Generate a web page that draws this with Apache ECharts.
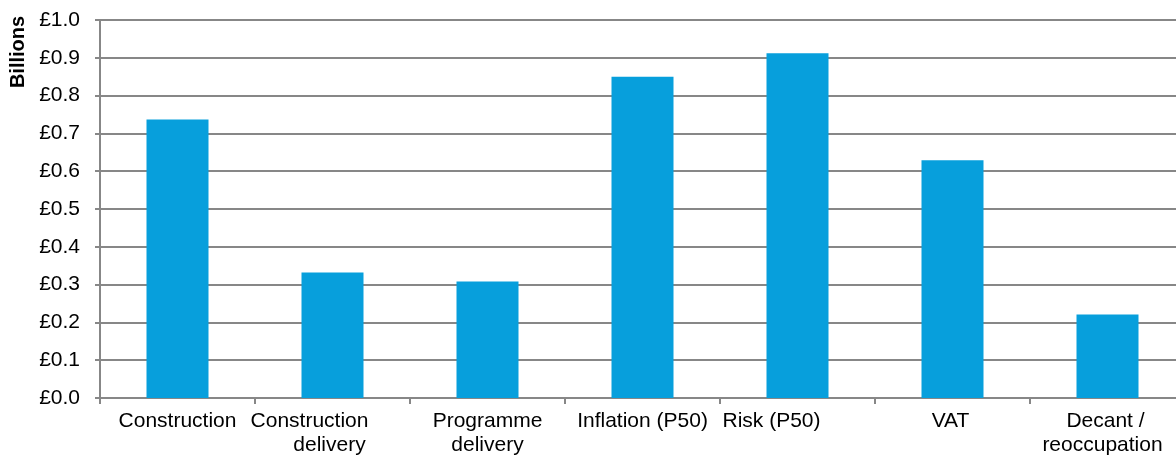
<!DOCTYPE html>
<html>
<head>
<meta charset="utf-8">
<script src="https://cdn.jsdelivr.net/npm/echarts@6/dist/echarts.min.js"></script>
<style>
  html, body { margin: 0; padding: 0; background: #fff; overflow: hidden; }
  /* the plot runs slightly past the right edge of the window */
  #chart { width: 1185px; height: 457px; }
</style>
</head>
<body>
<div id="chart"></div>
<script>
// Cost components (£ billions)
const categories = [
  'Construction',
  'Construction\ndelivery',
  'Programme\ndelivery',
  'Inflation (P50)',
  'Risk (P50)',
  'VAT',
  'Decant /\nreoccupation'
];
const costs = [0.737, 0.332, 0.308, 0.850, 0.912, 0.629, 0.221];
const yTicks = [0, 0.1, 0.2, 0.3, 0.4, 0.5, 0.6, 0.7, 0.8, 0.9, 1.0];

const font = '"Liberation Sans", Arial, Helvetica, sans-serif';
const grey = '#878787';

// leftward nudge (px) of each category label line, so the labels sit
// the way the original layout placed them
const labelNudge = {
  'Construction\ndelivery': [23, 3],
  'Risk (P50)': [26],
  'VAT': [2],
  'Decant /\nreoccupation': [2, 5]
};

const nudgeValues = [...new Set(Object.values(labelNudge).flat())];
const rich = { n0: { align: 'center', fontSize: 21, fontFamily: font, color: '#000', lineHeight: 24 } };
nudgeValues.forEach(n => {
  rich['n' + n] = {
    align: 'center', fontSize: 21, fontFamily: font, color: '#000', lineHeight: 24,
    padding: [0, 2 * n, 0, 0]
  };
});

function formatCategory(name) {
  const shifts = labelNudge[name] || [];
  return name.split('\n')
    .map((line, i) => '{n' + (shifts[i] || 0) + '|' + line + '}')
    .join('\n');
}

const chart = echarts.init(document.getElementById('chart'), null, { renderer: 'canvas' });
chart.setOption({
  animation: false,
  grid: { left: 100, top: 20, right: 0, height: 380 },
  graphic: [{
    type: 'text',
    rotation: Math.PI / 2,
    x: 18,
    y: 52,
    style: {
      text: 'Billions',
      font: 'bold 20px ' + font,
      fill: '#000',
      textAlign: 'center',
      textVerticalAlign: 'middle'
    }
  }],
  xAxis: {
    type: 'category',
    data: categories,
    axisLine: { lineStyle: { color: grey, width: 2 } },
    axisTick: { show: true, length: 6, lineStyle: { color: grey, width: 2 } },
    axisLabel: {
      color: '#000',
      fontFamily: font,
      fontSize: 21,
      lineHeight: 24,
      margin: 11,
      interval: 0,
      formatter: formatCategory,
      rich: rich
    }
  },
  yAxis: {
    type: 'value',
    min: 0,
    max: 1,
    interval: 0.1,
    axisLine: { show: true, lineStyle: { color: grey, width: 2 } },
    axisTick: { show: true, length: 5, lineStyle: { color: grey, width: 2 } },
    splitLine: { lineStyle: { color: grey, width: 2 } },
    axisLabel: {
      color: '#000',
      fontFamily: font,
      fontSize: 21,
      margin: 20,
      formatter: v => {
        const t = yTicks.find(x => Math.abs(x - v) < 1e-9);
        return '£' + (t !== undefined ? t : v).toFixed(1);
      }
    }
  },
  series: [{
    type: 'bar',
    data: costs,
    barWidth: 62,
    itemStyle: { color: '#079fdc' }
  }]
});
</script>
</body>
</html>
